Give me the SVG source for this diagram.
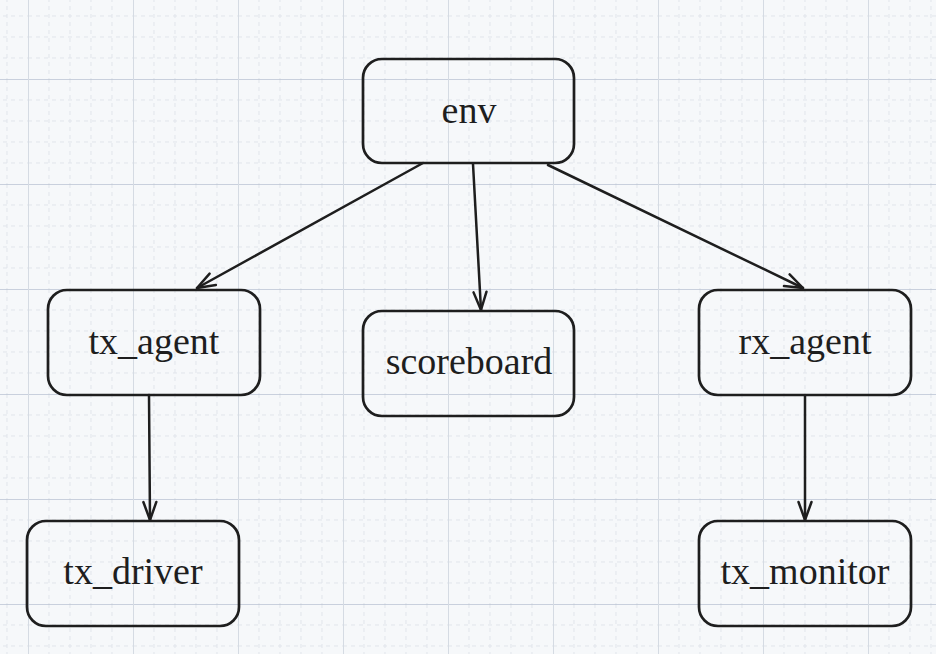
<svg xmlns="http://www.w3.org/2000/svg" width="936" height="654" viewBox="0 0 936 654">
  <defs>
    <pattern id="grid" x="28" y="79" width="105" height="105" patternUnits="userSpaceOnUse">
      <g stroke="#e1e5eb" stroke-width="1" stroke-dasharray="4 4" fill="none">
        <line x1="0" y1="21" x2="105" y2="21"/>
        <line x1="0" y1="42" x2="105" y2="42"/>
        <line x1="0" y1="63" x2="105" y2="63"/>
        <line x1="0" y1="84" x2="105" y2="84"/>
        <line x1="21" y1="0" x2="21" y2="105"/>
        <line x1="42" y1="0" x2="42" y2="105"/>
        <line x1="63" y1="0" x2="63" y2="105"/>
        <line x1="84" y1="0" x2="84" y2="105"/>
      </g>
      <line x1="0" y1="0" x2="105" y2="0" stroke="#b9c3d3" stroke-width="1.3"/>
      <line x1="0" y1="0" x2="0" y2="105" stroke="#d5dbe3" stroke-width="2"/>
    </pattern>
    <marker id="arrow" viewBox="-20 -10 22 20" refX="0" refY="0" markerWidth="22" markerHeight="20" markerUnits="userSpaceOnUse" orient="auto">
      <path d="M-18,-6.5 L0,0 L-18,6.5" fill="none" stroke="#1e1e1e" stroke-width="2.5" stroke-linecap="round" stroke-linejoin="round"/>
    </marker>
  </defs>
  <style>
    .node rect { fill: none; stroke: #1e1e1e; stroke-width: 2.7; }
    .node text { font-family: "Liberation Serif", "Times New Roman", serif; font-size: 38px; fill: #1e1e1e; text-anchor: middle; }
    .edge { fill: none; stroke: #1e1e1e; stroke-width: 2.5; stroke-linecap: round; marker-end: url(#arrow); }
  </style>
  <rect x="0" y="0" width="936" height="654" fill="#f6f8fa"/>
  <rect x="0" y="0" width="936" height="654" fill="url(#grid)"/>

  <g id="connectors">
    <line class="edge" x1="423" y1="163" x2="197" y2="288"/>
    <line class="edge" x1="473" y1="164" x2="481" y2="310"/>
    <line class="edge" x1="548" y1="165" x2="803" y2="288"/>
    <line class="edge" x1="149" y1="395" x2="150" y2="520"/>
    <line class="edge" x1="805" y1="396" x2="805" y2="520"/>
  </g>

  <g id="env" class="node">
    <rect x="363" y="59" width="211" height="104" rx="19"/>
    <text x="469" y="123">env</text>
  </g>
  <g id="tx_agent" class="node">
    <rect x="48" y="290" width="212" height="105" rx="19"/>
    <text x="154" y="354">tx_agent</text>
  </g>
  <g id="scoreboard" class="node">
    <rect x="363" y="311" width="211" height="105" rx="19"/>
    <text x="469" y="374">scoreboard</text>
  </g>
  <g id="rx_agent" class="node">
    <rect x="699" y="290" width="212" height="105" rx="19"/>
    <text x="805" y="354">rx_agent</text>
  </g>
  <g id="tx_driver" class="node">
    <rect x="27" y="521" width="212" height="105" rx="19"/>
    <text x="133" y="584">tx_driver</text>
  </g>
  <g id="tx_monitor" class="node">
    <rect x="699" y="521" width="212" height="105" rx="19"/>
    <text x="805" y="584">tx_monitor</text>
  </g>
</svg>
